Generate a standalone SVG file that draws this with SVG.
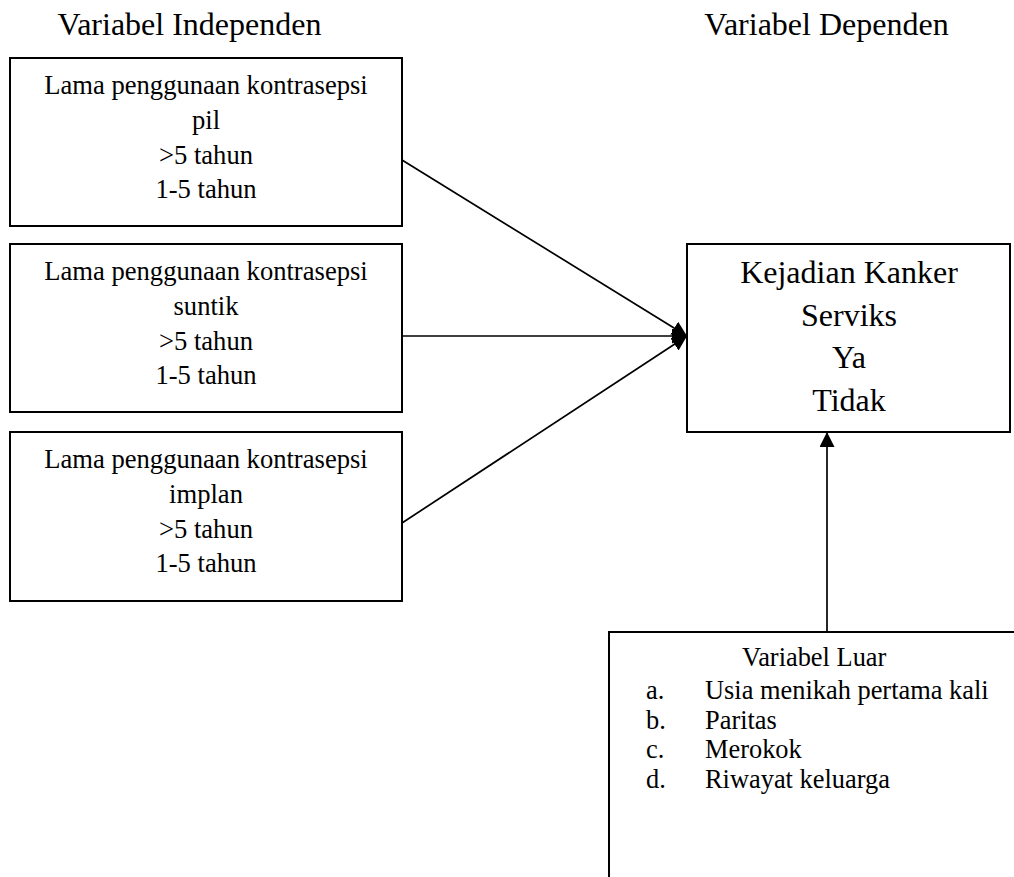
<svg xmlns="http://www.w3.org/2000/svg" width="1014" height="877" viewBox="0 0 1014 877">
<style>
text{font-family:"Liberation Serif","Times New Roman",serif;fill:#000}
.t{font-size:32px;text-anchor:middle}
.b{font-size:26.6px;text-anchor:middle}
.l{font-size:26.4px}
.box{fill:#fff;stroke:#000;stroke-width:2}
.con{stroke:#000;stroke-width:1.7;fill:none}
</style>
<defs>
<marker id="ah" markerUnits="userSpaceOnUse" markerWidth="16" markerHeight="16" refX="15" refY="7.5" orient="auto">
<path d="M0,0 L15,7.5 L0,15 z" fill="#000"/>
</marker>
</defs>
<rect width="1014" height="877" fill="#fff"/>
<g id="title-independen"><text class="t" x="189.5" y="35">Variabel Independen</text></g>
<g id="title-dependen"><text class="t" x="826.5" y="35">Variabel Dependen</text></g>
<g id="node-pil">
<rect class="box" x="10" y="58" width="392" height="168"/>
<text class="b" x="206" y="94">Lama penggunaan kontrasepsi</text>
<text class="b" x="206" y="129">pil</text>
<text class="b" x="206" y="164">&gt;5 tahun</text>
<text class="b" x="206" y="198">1-5 tahun</text>
</g>
<g id="node-suntik">
<rect class="box" x="10" y="244" width="392" height="168"/>
<text class="b" x="206" y="280">Lama penggunaan kontrasepsi</text>
<text class="b" x="206" y="315">suntik</text>
<text class="b" x="206" y="350">&gt;5 tahun</text>
<text class="b" x="206" y="384">1-5 tahun</text>
</g>
<g id="node-implan">
<rect class="box" x="10" y="432" width="392" height="169"/>
<text class="b" x="206" y="468">Lama penggunaan kontrasepsi</text>
<text class="b" x="206" y="503">implan</text>
<text class="b" x="206" y="538">&gt;5 tahun</text>
<text class="b" x="206" y="572">1-5 tahun</text>
</g>
<g id="node-kanker">
<rect class="box" x="687" y="244" width="323" height="188"/>
<text class="t" x="849" y="283">Kejadian Kanker</text>
<text class="t" x="849" y="326">Serviks</text>
<text class="t" x="849" y="368">Ya</text>
<text class="t" x="849" y="411">Tidak</text>
</g>
<g id="node-luar">
<rect class="box" x="609" y="632" width="500" height="400"/>
<text class="l" x="742" y="666">Variabel Luar</text>
<text class="l" x="646" y="699">a.</text><text class="l" x="705" y="699">Usia menikah pertama kali</text>
<text class="l" x="646" y="729">b.</text><text class="l" x="705" y="729">Paritas</text>
<text class="l" x="646" y="758">c.</text><text class="l" x="705" y="758">Merokok</text>
<text class="l" x="646" y="788">d.</text><text class="l" x="705" y="788">Riwayat keluarga</text>
</g>
<g id="connectors">
<line class="con" x1="402" y1="160" x2="687" y2="336" marker-end="url(#ah)"/>
<line class="con" x1="402" y1="336" x2="687" y2="336" marker-end="url(#ah)"/>
<line class="con" x1="402" y1="523" x2="687" y2="336" marker-end="url(#ah)"/>
<line class="con" x1="827" y1="632" x2="827" y2="432" marker-end="url(#ah)"/>
</g>
</svg>
